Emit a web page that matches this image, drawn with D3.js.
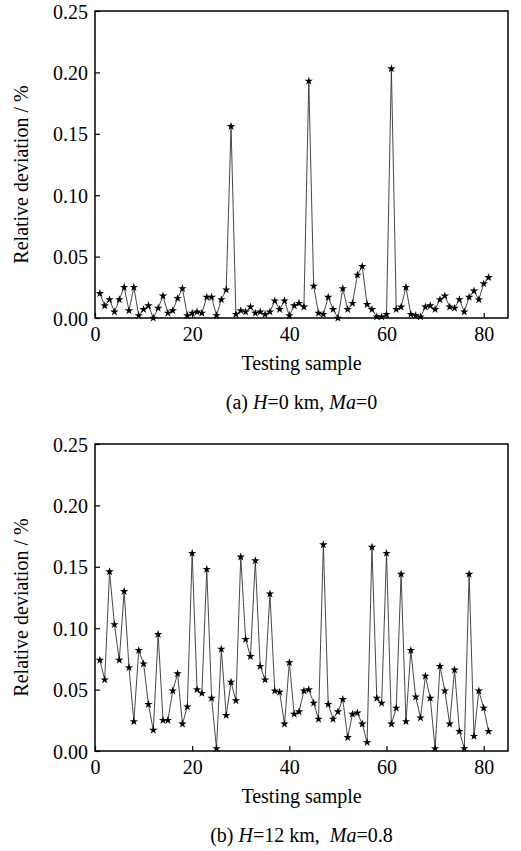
<!DOCTYPE html>
<html>
<head>
<meta charset="utf-8">
<script src="https://cdn.jsdelivr.net/npm/d3@7"></script>
<style>
    body { margin: 0; background: #fff; }
</style>
</head>
<body>
<script>
// chart size
var width = 521;
var height = 851;
var fontFamily = "'Liberation Serif'";

// sample index 1..81
var samples = d3.range(1, 82);

// relative deviation (%), case (a) H=0 km, Ma=0
var deviationA = [
    0.020, 0.010, 0.015, 0.005, 0.015, 0.025, 0.006, 0.025, 0.002, 0.007,
    0.010, 0.000, 0.008, 0.018, 0.004, 0.006, 0.016, 0.024, 0.002, 0.004,
    0.005, 0.004, 0.017, 0.017, 0.002, 0.015, 0.023, 0.156, 0.003, 0.006,
    0.005, 0.009, 0.004, 0.005, 0.003, 0.005, 0.014, 0.007, 0.014, 0.002,
    0.010, 0.012, 0.009, 0.193, 0.026, 0.004, 0.003, 0.017, 0.007, 0.000,
    0.024, 0.007, 0.012, 0.035, 0.042, 0.011, 0.007, 0.001, 0.001, 0.003,
    0.203, 0.007, 0.009, 0.025, 0.003, 0.002, 0.001, 0.009, 0.010, 0.007,
    0.015, 0.018, 0.009, 0.008, 0.015, 0.005, 0.017, 0.022, 0.015, 0.028,
    0.033
];

// relative deviation (%), case (b) H=12 km, Ma=0.8
var deviationB = [
    0.074, 0.058, 0.146, 0.103, 0.074, 0.130, 0.068, 0.024, 0.082, 0.071,
    0.038, 0.017, 0.095, 0.025, 0.025, 0.049, 0.063, 0.022, 0.036, 0.161,
    0.050, 0.047, 0.148, 0.043, 0.002, 0.083, 0.029, 0.056, 0.041, 0.158,
    0.091, 0.077, 0.155, 0.069, 0.058, 0.128, 0.049, 0.048, 0.022, 0.072,
    0.030, 0.032, 0.049, 0.050, 0.039, 0.026, 0.168, 0.038, 0.026, 0.032,
    0.042, 0.011, 0.030, 0.031, 0.022, 0.007, 0.166, 0.043, 0.039, 0.161,
    0.022, 0.035, 0.144, 0.024, 0.082, 0.044, 0.027, 0.061, 0.043, 0.002,
    0.069, 0.049, 0.022, 0.066, 0.016, 0.002, 0.144, 0.012, 0.049, 0.035,
    0.016
];

// tick labels
var xTicks = [0, 20, 40, 60, 80];
var yTicks = [0, 0.05, 0.10, 0.15, 0.20, 0.25];

var xLabel = "Testing sample";
var yLabel = "Relative deviation / %";

// caption pieces: [text, italic?]
var captionA = [["(a) ", false], ["H", true], ["=0 km, ", false], ["Ma", true], ["=0", false]];
var captionB = [["(b) ", false], ["H", true], ["=12 km,\u00a0 ", false], ["Ma", true], ["=0.8", false]];

var svg = d3.select("body")
    .append("svg")
    .attr("width", width)
    .attr("height", height);

/*====================================================================
       drawPanel()
       one framed line chart with star markers and its caption
    ==================================================================*/
function drawPanel(top, values, caption) {
    var left = 95, right = 508, bottom = top + 307;

    var x = d3.scaleLinear().domain([0, 85]).range([left, right]);
    var y = d3.scaleLinear().domain([0, 0.25]).range([bottom, top]);

    var g = svg.append("g");

    // frame
    g.append("rect")
        .attr("x", left)
        .attr("y", top)
        .attr("width", right - left)
        .attr("height", bottom - top)
        .attr("fill", "none")
        .attr("stroke", "#000")
        .attr("stroke-width", 1.5);

    // x axis (ticks inward)
    var xAxis = d3.axisBottom(x)
        .tickValues(xTicks)
        .tickSizeInner(-5)
        .tickSizeOuter(0)
        .tickPadding(9);
    var gx = g.append("g")
        .attr("transform", "translate(0," + bottom + ")")
        .call(xAxis);
    gx.select(".domain").remove();
    gx.selectAll("line").attr("stroke", "#000").attr("stroke-width", 1.2);
    gx.selectAll("text")
        .style("font-family", fontFamily)
        .style("font-size", "20px")
        .attr("dy", "0.72em");

    // y axis (ticks inward)
    var yAxis = d3.axisLeft(y)
        .tickValues(yTicks)
        .tickFormat(d3.format(".2f"))
        .tickSizeInner(-5)
        .tickSizeOuter(0)
        .tickPadding(7);
    var gy = g.append("g")
        .attr("transform", "translate(" + left + ",0)")
        .call(yAxis);
    gy.select(".domain").remove();
    gy.selectAll("line").attr("stroke", "#000").attr("stroke-width", 1.2);
    gy.selectAll("text")
        .style("font-family", fontFamily)
        .style("font-size", "20px")
        .attr("dy", "0.35em");

    // line
    var line = d3.line()
        .x(function (d, i) { return x(samples[i]); })
        .y(function (d) { return y(d); });

    g.append("path")
        .datum(values)
        .attr("d", line)
        .attr("fill", "none")
        .attr("stroke", "#333")
        .attr("stroke-width", 0.9);

    // star markers
    g.selectAll(".star")
        .data(values)
        .enter()
        .append("path")
        .attr("class", "star")
        .attr("d", d3.symbol().type(d3.symbolStar).size(22))
        .attr("transform", function (d, i) {
            return "translate(" + x(samples[i]) + "," + y(d) + ")";
        })
        .attr("fill", "#000");

    // axis titles
    g.append("text")
        .attr("x", (left + right) / 2)
        .attr("y", bottom + 52)
        .attr("text-anchor", "middle")
        .style("font-family", fontFamily)
        .style("font-size", "20px")
        .text(xLabel);

    g.append("text")
        .attr("transform", "translate(28," + ((top + bottom) / 2 + 10) + ") rotate(-90)")
        .attr("text-anchor", "middle")
        .style("font-family", fontFamily)
        .style("font-size", "20px")
        .text(yLabel);

    // caption
    var cap = g.append("text")
        .attr("x", (left + right) / 2)
        .attr("y", bottom + 91)
        .attr("text-anchor", "middle")
        .style("font-family", fontFamily)
        .style("font-size", "20px");
    cap.selectAll("tspan")
        .data(caption)
        .enter()
        .append("tspan")
        .style("font-style", function (d) { return d[1] ? "italic" : "normal"; })
        .text(function (d) { return d[0]; });
}

drawPanel(11, deviationA, captionA);
drawPanel(444, deviationB, captionB);
</script>
</body>
</html>
